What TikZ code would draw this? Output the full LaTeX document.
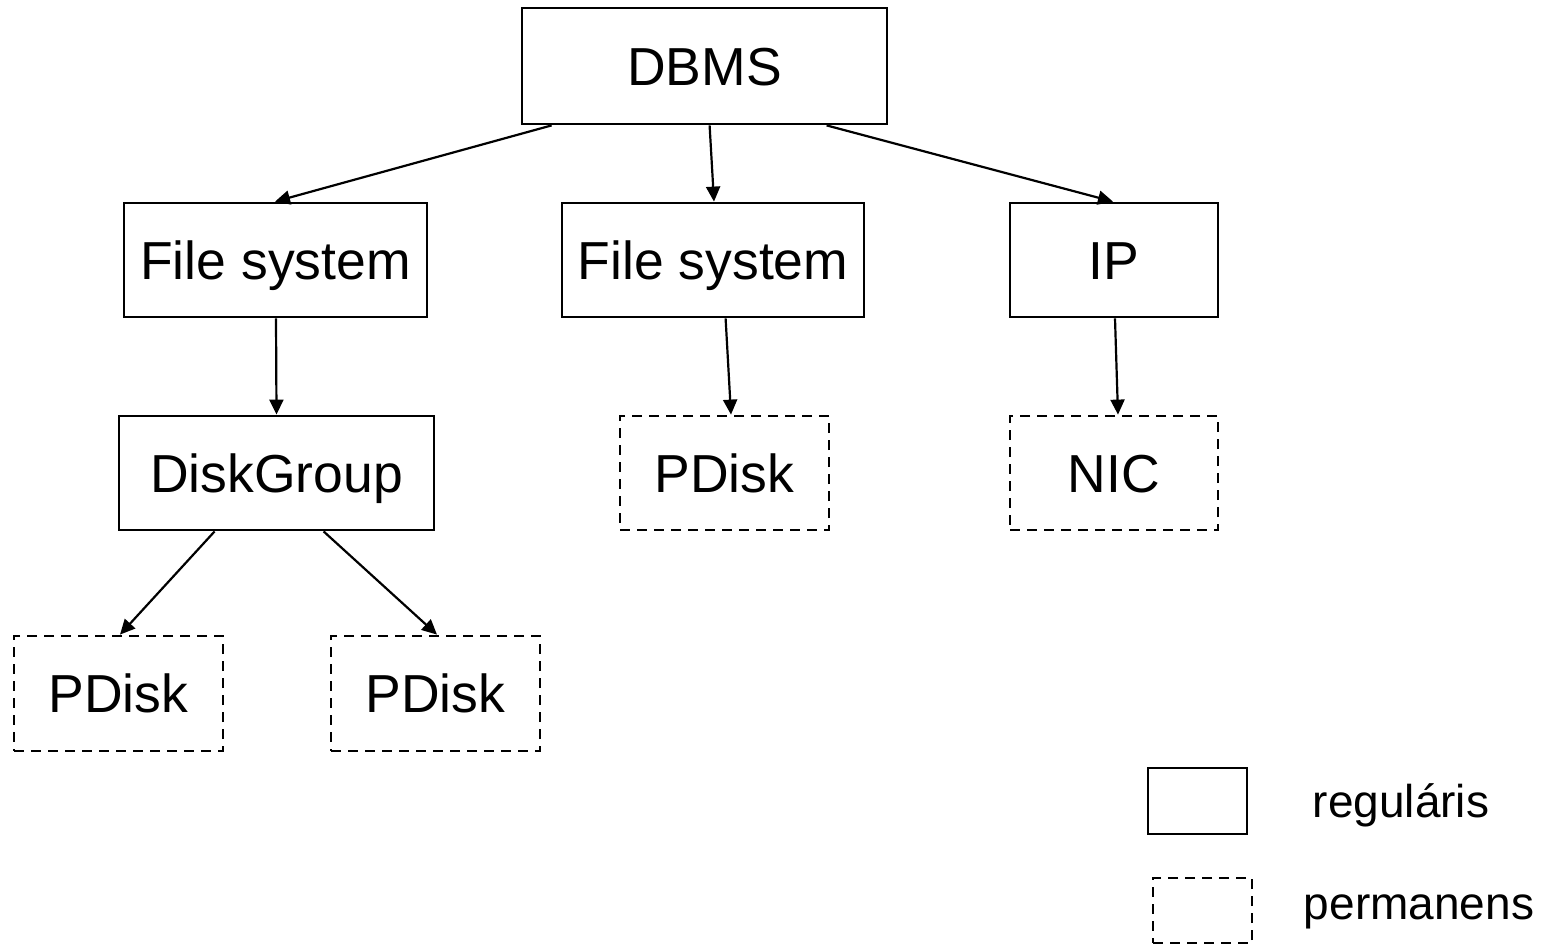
\documentclass[tikz,border=0pt]{standalone}
\usepackage{fontspec}
\setmainfont{Liberation Sans}
\usetikzlibrary{arrows.meta,calc}
\begin{document}
\begin{tikzpicture}[x=1pt,y=-1pt,
  box/.style={draw=black,line width=2.8pt,inner sep=0pt,text height=38pt,text depth=0pt,font=\fontsize{53.5}{62}\selectfont},
  perm/.style={box,dash pattern=on 10pt off 7pt},
  conn/.style={line width=2.2pt,-{Triangle[length=15pt,width=14pt]}},
  lbl/.style={inner sep=0pt,font=\fontsize{46}{54}\selectfont}]
\useasboundingbox (0,0) rectangle (1561,945);
\node[box,minimum width=365pt,minimum height=116pt] (dbms) at (704.5,66) {DBMS};
\node[box,minimum width=303pt,minimum height=114pt] (fs1) at (275.5,260) {File system};
\node[box,minimum width=302pt,minimum height=114pt] (fs2) at (713,260) {File system};
\node[box,minimum width=208pt,minimum height=114pt] (ip) at (1114,260) {IP};
\node[box,minimum width=315pt,minimum height=114pt] (dg) at (276.5,473) {DiskGroup};
\node[perm,minimum width=209pt,minimum height=114pt] (pd2) at (724.5,473) {PDisk};
\node[perm,minimum width=208pt,minimum height=114pt] (nic) at (1114,473) {NIC};
\node[perm,minimum width=209pt,minimum height=115pt] (pd0) at (118.5,693.5) {PDisk};
\node[perm,minimum width=209pt,minimum height=115pt] (pd1) at (435.5,693.5) {PDisk};
\node[box,minimum width=99pt,minimum height=66pt] (lreg) at (1197.5,801) {};
\node[perm,minimum width=99pt,minimum height=65pt] (lperm) at (1202.5,910.5) {};
\node[lbl] (treg) at (1401,805) {reguláris};
\node[lbl] (tperm) at (1419,912) {permanens};
\draw[conn] ([xshift=31pt]dbms.south west) -- ([xshift=-0.5pt]fs1.north);
\draw[conn] ([xshift=189pt]dbms.south west) -- ([xshift=1pt]fs2.north);
\draw[conn] ([xshift=306pt]dbms.south west) -- ([xshift=-1pt]ip.north);
\draw[conn] ([xshift=0.5pt]fs1.south) -- (dg.north);
\draw[conn] ([xshift=165pt]fs2.south west) -- ([xshift=6.5pt]pd2.north);
\draw[conn] ([xshift=1pt]ip.south) -- ([xshift=4pt]nic.north);
\draw[conn] ([xshift=97pt]dg.south west) -- ([xshift=1.5pt]pd0.north);
\draw[conn] ([xshift=206pt]dg.south west) -- ([xshift=1.5pt]pd1.north);
\end{tikzpicture}
\end{document}
